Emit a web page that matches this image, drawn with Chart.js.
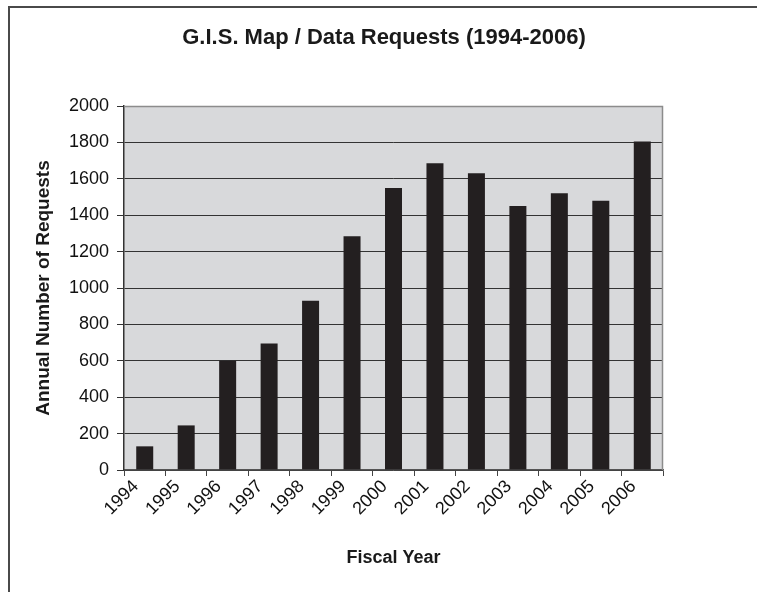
<!DOCTYPE html>
<html>
<head>
<meta charset="utf-8">
<script src="https://cdn.jsdelivr.net/npm/chart.js@4"></script>
<style>
  html, body { margin: 0; padding: 0; background: #ffffff; }
  #wrap { width: 760px; height: 592px; position: relative; }
</style>
</head>
<body>
<div id="wrap"><canvas id="c"></canvas></div>
<script>
// Fiscal years and annual G.I.S. map / data request counts
const fiscalYears = ['1994', '1995', '1996', '1997', '1998', '1999', '2000',
                     '2001', '2002', '2003', '2004', '2005', '2006'];
const annualRequests = [130, 245, 600, 695, 930, 1285, 1550, 1685, 1630, 1450, 1520, 1480, 1805];

// Value axis range and step
const yMin = 0;
const yMax = 2000;
const yStep = 200;

const FONT = '"Liberation Sans", Arial, Helvetica, sans-serif';

// Gray plot background, gray top/right plot border, and the outer frame lines
const plotFrame = {
  id: 'plotFrame',
  beforeDraw(chart) {
    const { ctx, chartArea: a } = chart;
    ctx.save();
    ctx.fillStyle = '#d8d9db';
    ctx.fillRect(a.left, a.top, a.right - a.left, a.bottom - a.top);
    ctx.strokeStyle = '#4a4a4a';
    ctx.lineWidth = 2;
    ctx.beginPath();
    ctx.moveTo(9, chart.height);
    ctx.lineTo(9, 7);
    ctx.lineTo(757, 7);
    ctx.stroke();
    ctx.restore();
  },
  beforeDatasetsDraw(chart) {
    const { ctx, chartArea: a } = chart;
    ctx.save();
    ctx.strokeStyle = '#8c8c8c';
    ctx.lineWidth = 1.5;
    ctx.beginPath();
    ctx.moveTo(a.left, a.top + 0.5);
    ctx.lineTo(a.right - 0.5, a.top + 0.5);
    ctx.lineTo(a.right - 0.5, a.bottom);
    ctx.stroke();
    ctx.restore();
  }
};

new Chart(document.getElementById('c'), {
  type: 'bar',
  data: {
    labels: fiscalYears,
    datasets: [{
      data: annualRequests,
      backgroundColor: '#231f20',
      borderWidth: 0,
      barPercentage: 0.41,
      categoryPercentage: 1.0
    }]
  },
  options: {
    responsive: true,
    maintainAspectRatio: false,
    devicePixelRatio: 1,
    animation: false,
    layout: { padding: { top: 0, left: 8, right: 0, bottom: 0 } },
    plugins: {
      legend: { display: false },
      tooltip: { enabled: false },
      title: {
        display: true,
        text: 'G.I.S. Map / Data Requests (1994-2006)',
        color: '#1a1a1a',
        font: { family: FONT, size: 22, weight: 'bold' },
        padding: { top: 25, bottom: 54.6 }
      }
    },
    scales: {
      x: {
        offset: true,
        grid: {
          offset: true,
          drawOnChartArea: false,
          drawTicks: true,
          tickLength: 6,
          color: '#444444'
        },
        border: { display: true, color: '#555555', width: 1.5 },
        ticks: {
          autoSkip: false,
          minRotation: 45,
          maxRotation: 45,
          padding: 0,
          labelOffset: -9,
          color: '#111111',
          font: { family: FONT, size: 18 }
        },
        title: {
          display: true,
          text: 'Fiscal Year',
          color: '#1a1a1a',
          font: { family: FONT, size: 18, weight: 'bold' },
          padding: { top: 0, bottom: 23 }
        },
        afterFit(scale) { scale.height = 122; }
      },
      y: {
        min: yMin,
        max: yMax,
        ticks: {
          stepSize: yStep,
          padding: 8,
          color: '#111111',
          font: { family: FONT, size: 18 },
          callback: (v) => String(v)
        },
        grid: {
          color: (c) => (c.tick && c.tick.value === yMax) ? '#8c8c8c' : '#333333',
          tickColor: '#333333',
          tickLength: 7,
          lineWidth: 1
        },
        border: { display: true, color: '#333333', width: 1.5 },
        title: {
          display: true,
          text: 'Annual Number of Requests',
          color: '#1a1a1a',
          font: { family: FONT, size: 19, weight: 'bold' },
          padding: { top: 24.6, bottom: 0 }
        },
        afterFit(scale) { scale.width = 116; }
      },
      // empty right-hand margin beside the plot
      spacer: {
        type: 'linear',
        position: 'right',
        display: true,
        grid: { display: false },
        border: { display: false },
        ticks: { display: false },
        afterFit(scale) { scale.width = 97; }
      }
    }
  },
  plugins: [plotFrame]
});
</script>
</body>
</html>
